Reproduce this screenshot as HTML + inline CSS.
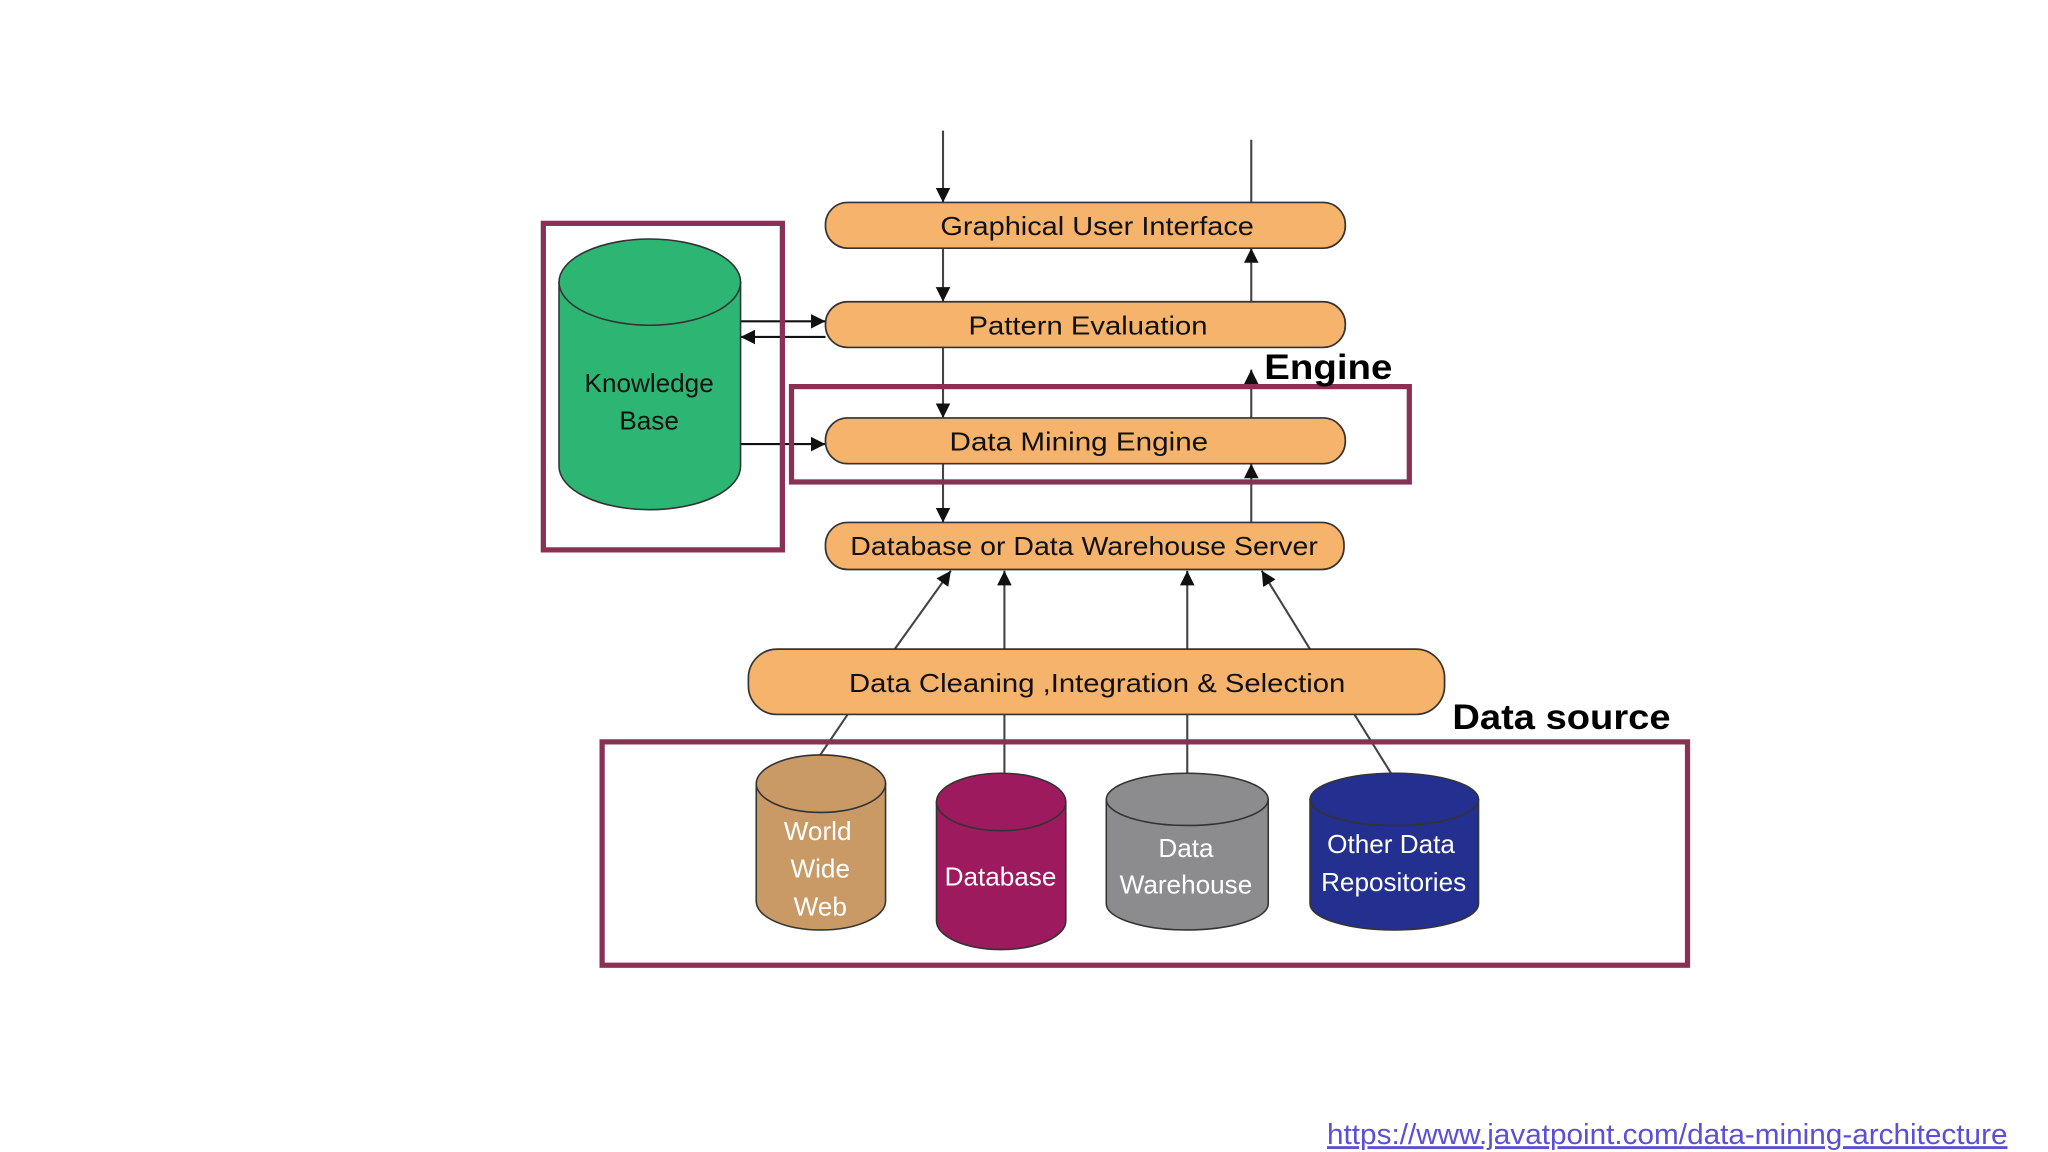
<!DOCTYPE html>
<html><head><meta charset="utf-8"><style>html,body{margin:0;padding:0;background:#fff}svg{display:block}</style></head>
<body>
<svg width="2048" height="1152" viewBox="0 0 1568 882" xmlns="http://www.w3.org/2000/svg">
<defs>
<marker id="a" viewBox="0 0 10 10" refX="10" refY="5" markerWidth="7" markerHeight="7" orient="auto-start-reverse"><path d="M0,0 L10,5 L0,10 z" fill="#111"/></marker>
</defs>
<rect width="1568" height="882" fill="#fff"/>
<g stroke="#444" stroke-width="1.6" fill="none">
<line x1="722" y1="100" x2="722" y2="155" marker-end="url(#a)"/>
<line x1="958" y1="107" x2="958" y2="155"/>
<line x1="958" y1="231" x2="958" y2="190" marker-end="url(#a)"/>
<line x1="722" y1="190" x2="722" y2="231" marker-end="url(#a)"/>
<line x1="722" y1="266" x2="722" y2="320" marker-end="url(#a)"/>
<line x1="958" y1="320" x2="958" y2="283" marker-end="url(#a)"/>
<line x1="722" y1="355" x2="722" y2="400" marker-end="url(#a)"/>
<line x1="958" y1="400" x2="958" y2="355" marker-end="url(#a)"/>
<line x1="685" y1="497" x2="728" y2="437" marker-end="url(#a)"/>
<line x1="769" y1="497" x2="769" y2="437" marker-end="url(#a)"/>
<line x1="909" y1="497" x2="909" y2="437" marker-end="url(#a)"/>
<line x1="1003" y1="497" x2="966" y2="437" marker-end="url(#a)"/>
<line x1="649" y1="547" x2="628" y2="578"/>
<line x1="769" y1="547" x2="769" y2="592"/>
<line x1="909" y1="547" x2="909" y2="592"/>
<line x1="1037" y1="547" x2="1065" y2="592"/>
<g stroke="#111">
<line x1="567" y1="246" x2="632" y2="246" marker-end="url(#a)"/>
<line x1="632" y1="258" x2="567" y2="258" marker-end="url(#a)"/>
<line x1="567" y1="340" x2="632" y2="340" marker-end="url(#a)"/>
</g>
</g>
<g fill="#f5b36c" stroke="#333" stroke-width="1.3">
<rect x="632" y="155" width="398" height="35" rx="17"/>
<rect x="632" y="231" width="398" height="35" rx="17"/>
<rect x="632" y="320" width="398" height="35" rx="17"/>
<rect x="632" y="400" width="397" height="36" rx="17"/>
<rect x="573" y="497" width="533" height="50" rx="22"/>
</g>
<g font-family="'Liberation Sans',sans-serif" font-size="20" fill="#111" text-anchor="middle">
<text x="840" y="180" textLength="240" lengthAdjust="spacingAndGlyphs">Graphical User Interface</text>
<text x="833" y="256" textLength="183" lengthAdjust="spacingAndGlyphs">Pattern Evaluation</text>
<text x="826" y="345" textLength="198" lengthAdjust="spacingAndGlyphs">Data Mining Engine</text>
<text x="830" y="425" textLength="358" lengthAdjust="spacingAndGlyphs">Database or Data Warehouse Server</text>
<text x="840" y="530" textLength="380" lengthAdjust="spacingAndGlyphs">Data Cleaning ,Integration &amp; Selection</text>
</g>
<g fill="none" stroke="#8b3055" stroke-width="4">
<rect x="416" y="171" width="183" height="250"/>
<rect x="606" y="296" width="473" height="73"/>
<rect x="461" y="568" width="831" height="171"/>
</g>
<g stroke="#333" stroke-width="1.2">
<path d="M428,216 V357 A69,33 0 0 0 567,357 V216 Z" fill="#2db574"/>
<ellipse cx="497.5" cy="216" rx="69.5" ry="33" fill="#2db574"/>
<path d="M579,600 V690 A49.5,22 0 0 0 678,690 V600 Z" fill="#c99a66"/>
<ellipse cx="628.5" cy="600" rx="49.5" ry="22" fill="#c99a66"/>
<path d="M717,614 V705 A49.5,22 0 0 0 816,705 V614 Z" fill="#9e1a5e"/>
<ellipse cx="766.5" cy="614" rx="49.5" ry="22" fill="#9e1a5e"/>
<path d="M847,612 V692 A62,20 0 0 0 971,692 V612 Z" fill="#8c8c8e"/>
<ellipse cx="909" cy="612" rx="62" ry="20" fill="#8c8c8e"/>
<path d="M1003,612 V692 A64.5,20 0 0 0 1132,692 V612 Z" fill="#23308f"/>
<ellipse cx="1067.5" cy="612" rx="64.5" ry="20" fill="#23308f"/>
</g>
<g font-family="'Liberation Sans',sans-serif" font-size="20" text-anchor="middle">
<text x="497" y="300" fill="#111">Knowledge</text>
<text x="497" y="329" fill="#111">Base</text>
<g fill="#fff">
<text x="626" y="643">World</text>
<text x="628" y="672">Wide</text>
<text x="628" y="701">Web</text>
<text x="766" y="678">Database</text>
<text x="908" y="656">Data</text>
<text x="908" y="684">Warehouse</text>
<text x="1065" y="653">Other Data</text>
<text x="1067" y="682">Repositories</text>
</g>
</g>
<g font-family="'Liberation Sans',sans-serif" font-weight="bold" font-size="27" fill="#000">
<text x="968" y="290" textLength="98" lengthAdjust="spacingAndGlyphs">Engine</text>
<text x="1112" y="558" textLength="167" lengthAdjust="spacingAndGlyphs">Data source</text>
</g>
<text x="1016" y="876" textLength="521" lengthAdjust="spacingAndGlyphs" font-family="'Liberation Sans',sans-serif" font-size="22" fill="#5b4fd6" text-decoration="underline">https://www.javatpoint.com/data-mining-architecture</text>
</svg>
</body></html>
